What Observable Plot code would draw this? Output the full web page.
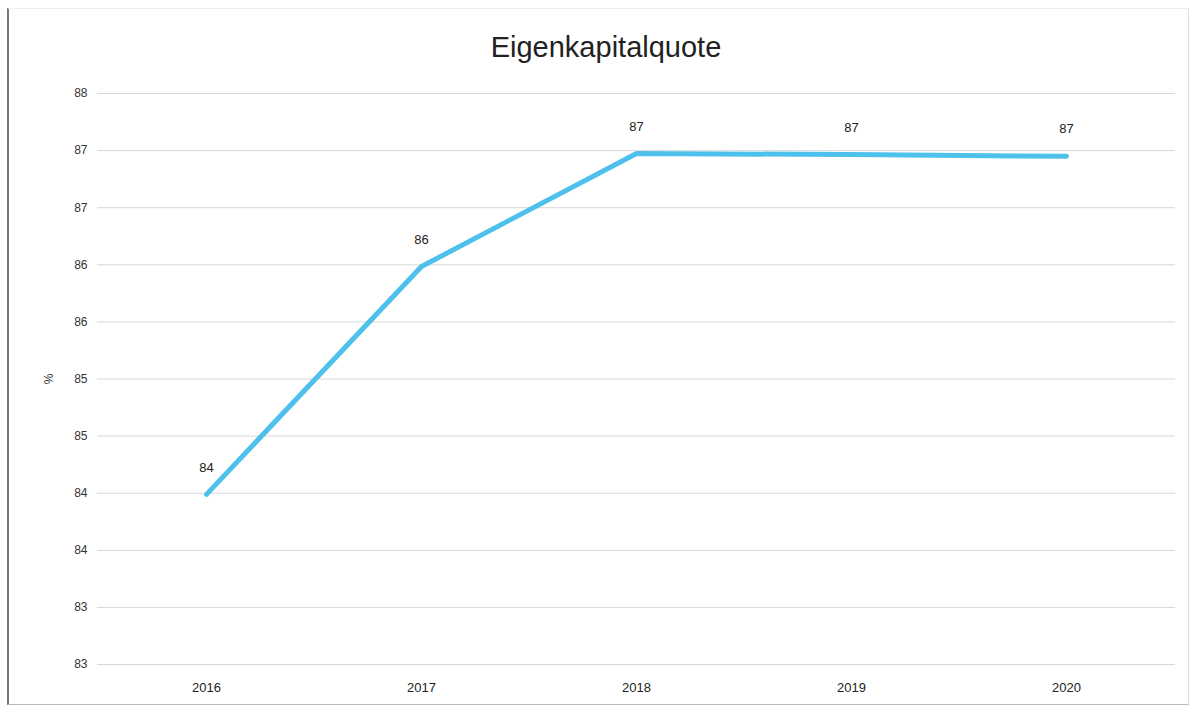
<!DOCTYPE html>
<html>
<head>
<meta charset="utf-8">
<script src="https://cdn.jsdelivr.net/npm/d3@7"></script>
<script src="https://cdn.jsdelivr.net/npm/@observablehq/plot@0.6"></script>
<style>
  html, body { margin: 0; padding: 0; background: #fff; }
  body { width: 1200px; height: 709px; overflow: hidden; font-family: "Liberation Sans", Arial, sans-serif; }
  #frame { position: absolute; left: 7px; top: 8px; width: 1182px; height: 697px; border-left: 2px solid #777; border-bottom: 1px solid #bbb; border-right: 1px solid #ddd; border-top: 1px solid #eee; box-sizing: border-box; }
  #title { position: absolute; left: 0; top: 31px; width: 1212px; text-align: center; font-size: 29px; color: #222; }
  #chart { position: absolute; left: 0; top: 80px; }
</style>
</head>
<body>
<div id="frame"></div>
<div id="title">Eigenkapitalquote</div>
<div id="chart"></div>
<script>
const years = ["2016", "2017", "2018", "2019", "2020"];
const quote = [84.49, 86.485, 87.475, 87.465, 87.45];
const valueLabels = ["84", "86", "87", "87", "87"];
const yTicks = [83, 83.5, 84, 84.5, 85, 85.5, 86, 86.5, 87, 87.5, 88];
const yTickLabels = ["83", "83", "84", "84", "85", "85", "86", "86", "87", "87", "88"];

const data = years.map((y, i) => ({year: y, value: quote[i], label: valueLabels[i]}));
const tickLabelMap = new Map(yTicks.map((t, i) => [t, yTickLabels[i]]));

const chart = Plot.plot({
  width: 1200,
  height: 629,
  marginLeft: 97,
  marginRight: 25,
  marginTop: 13,
  marginBottom: 45,
  style: {fontFamily: "'Liberation Sans', Arial, sans-serif", background: "transparent"},
  x: {type: "point", domain: years, padding: 0.5},
  y: {domain: [83, 88]},
  marks: [
    Plot.gridY(yTicks, {stroke: "#d8d8d8", strokeOpacity: 1, strokeWidth: 1}),
    Plot.axisY(yTicks, {
      tickSize: 0, tickPadding: 10, fontSize: 12, fill: "#333",
      tickFormat: d => tickLabelMap.get(d),
      label: "%", labelAnchor: "center", labelOffset: 53, labelArrow: "none"
    }),
    Plot.axisX(years, {tickSize: 0, tickPadding: 18, fontSize: 13, fill: "#222", label: null}),
    Plot.line(data, {x: "year", y: "value", stroke: "#4ec0ec", strokeWidth: 5, strokeLinejoin: "round"}),
    Plot.text(data, {x: "year", y: "value", text: "label", dy: -27, fontSize: 13, fill: "#222"})
  ]
});
document.getElementById("chart").appendChild(chart);
</script>
</body>
</html>
